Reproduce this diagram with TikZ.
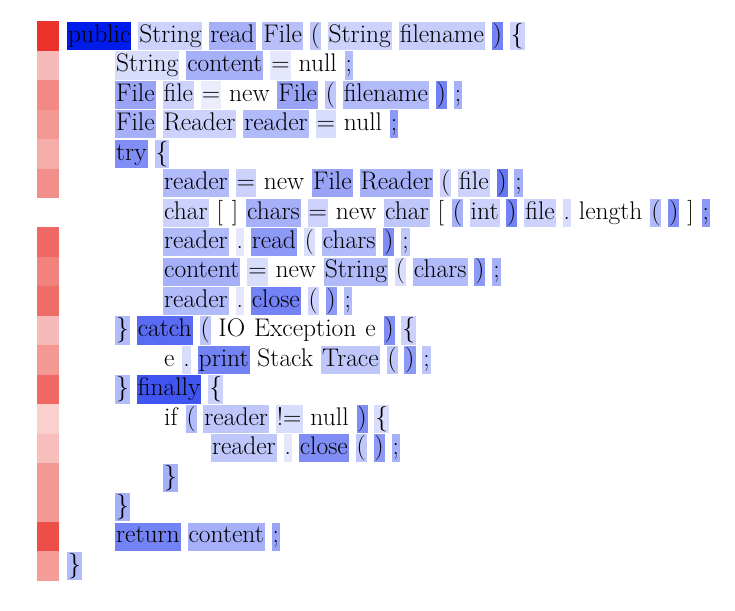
\documentclass[tikz,border=0pt]{standalone}
\usepackage{tikz}
\usetikzlibrary{positioning}
\usepackage{xcolor}
\definecolor{attblue}{RGB}{0,28,235}
\definecolor{attred}{RGB}{232,40,32}

\begin{document}
\begin{tikzpicture}[x=1pt, y=1pt, node distance=6.5pt,
    tok/.style={rectangle, inner xsep=1pt, inner ysep=1.6pt, text height=18.8pt, text depth=6.2pt, font=\fontsize{25.5pt}{30pt}\selectfont},
    cell/.style={rectangle, inner sep=0pt, minimum width=22pt, minimum height=29.45pt}]
    \useasboundingbox (0,0) rectangle (735,-610);
    % line / indent / heat of the line / tokens with their weight
    \foreach \n/\ind/\heat/\toks in {
        1/0/95/{public/100,String/20,read/35,File/28,{(}/25,String/20,filename/22,{)}/55,\{/20},
        2/1/32/{String/15,content/35,=/10,null/0,;/30},
        3/1/55/{File/40,file/20,=/8,new/0,File/40,{(}/25,filename/30,{)}/55,;/35},
        4/1/48/{File/35,Reader/20,reader/30,=/15,null/0,;/45},
        5/1/38/{try/50,\{/25},
        6/2/52/{reader/30,=/20,new/0,File/40,Reader/35,{(}/20,file/20,{)}/60,;/35},
        7/2/0/{char/20,{[}/0,{]}/0,chars/35,=/20,new/0,char/25,{[}/0,{(}/35,int/20,{)}/55,file/20,./15,length/0,{(}/30,{)}/50,{]}/0,;/45},
        8/2/70/{reader/30,./10,read/45,{(}/15,chars/30,{)}/50,;/25},
        9/2/58/{content/35,=/15,new/0,String/30,{(}/15,chars/30,{)}/45,;/35},
        10/2/68/{reader/30,./10,close/55,{(}/20,{)}/45,;/30},
        11/1/32/{\}/30,catch/65,{(}/25,IO/0,Exception/0,e/0,{)}/50,\{/20},
        12/2/48/{e/0,./15,print/55,Stack/0,Trace/25,{(}/25,{)}/45,;/25},
        13/1/70/{\}/30,finally/75,\{/20},
        14/2/22/{if/0,{(}/30,reader/25,!=/15,null/0,{)}/50,\{/15},
        15/3/30/{reader/25,./10,close/50,{(}/25,{)}/45,;/35},
        16/2/48/{\}/35},
        17/1/48/{\}/35},
        18/1/82/{return/55,content/35,;/40},
        19/0/46/{\}/30}}{
        \node [cell, fill=attred!\heat] (h\n) at (48, {-36-(\n-1)*29.45}) {};
        \foreach \w/\a [count=\k] in \toks {
            \ifnum\k=1
                \node [tok, fill=attblue!\a, anchor=west] (t\n-\k) at ({67+48*\ind}, {-36-(\n-1)*29.45}) {\w};
            \else
                \pgfmathtruncatemacro\prev{\k-1}
                \node [tok, fill=attblue!\a, right=of t\n-\prev] (t\n-\k) {\w};
            \fi
        }
    }
\end{tikzpicture}
\end{document}
